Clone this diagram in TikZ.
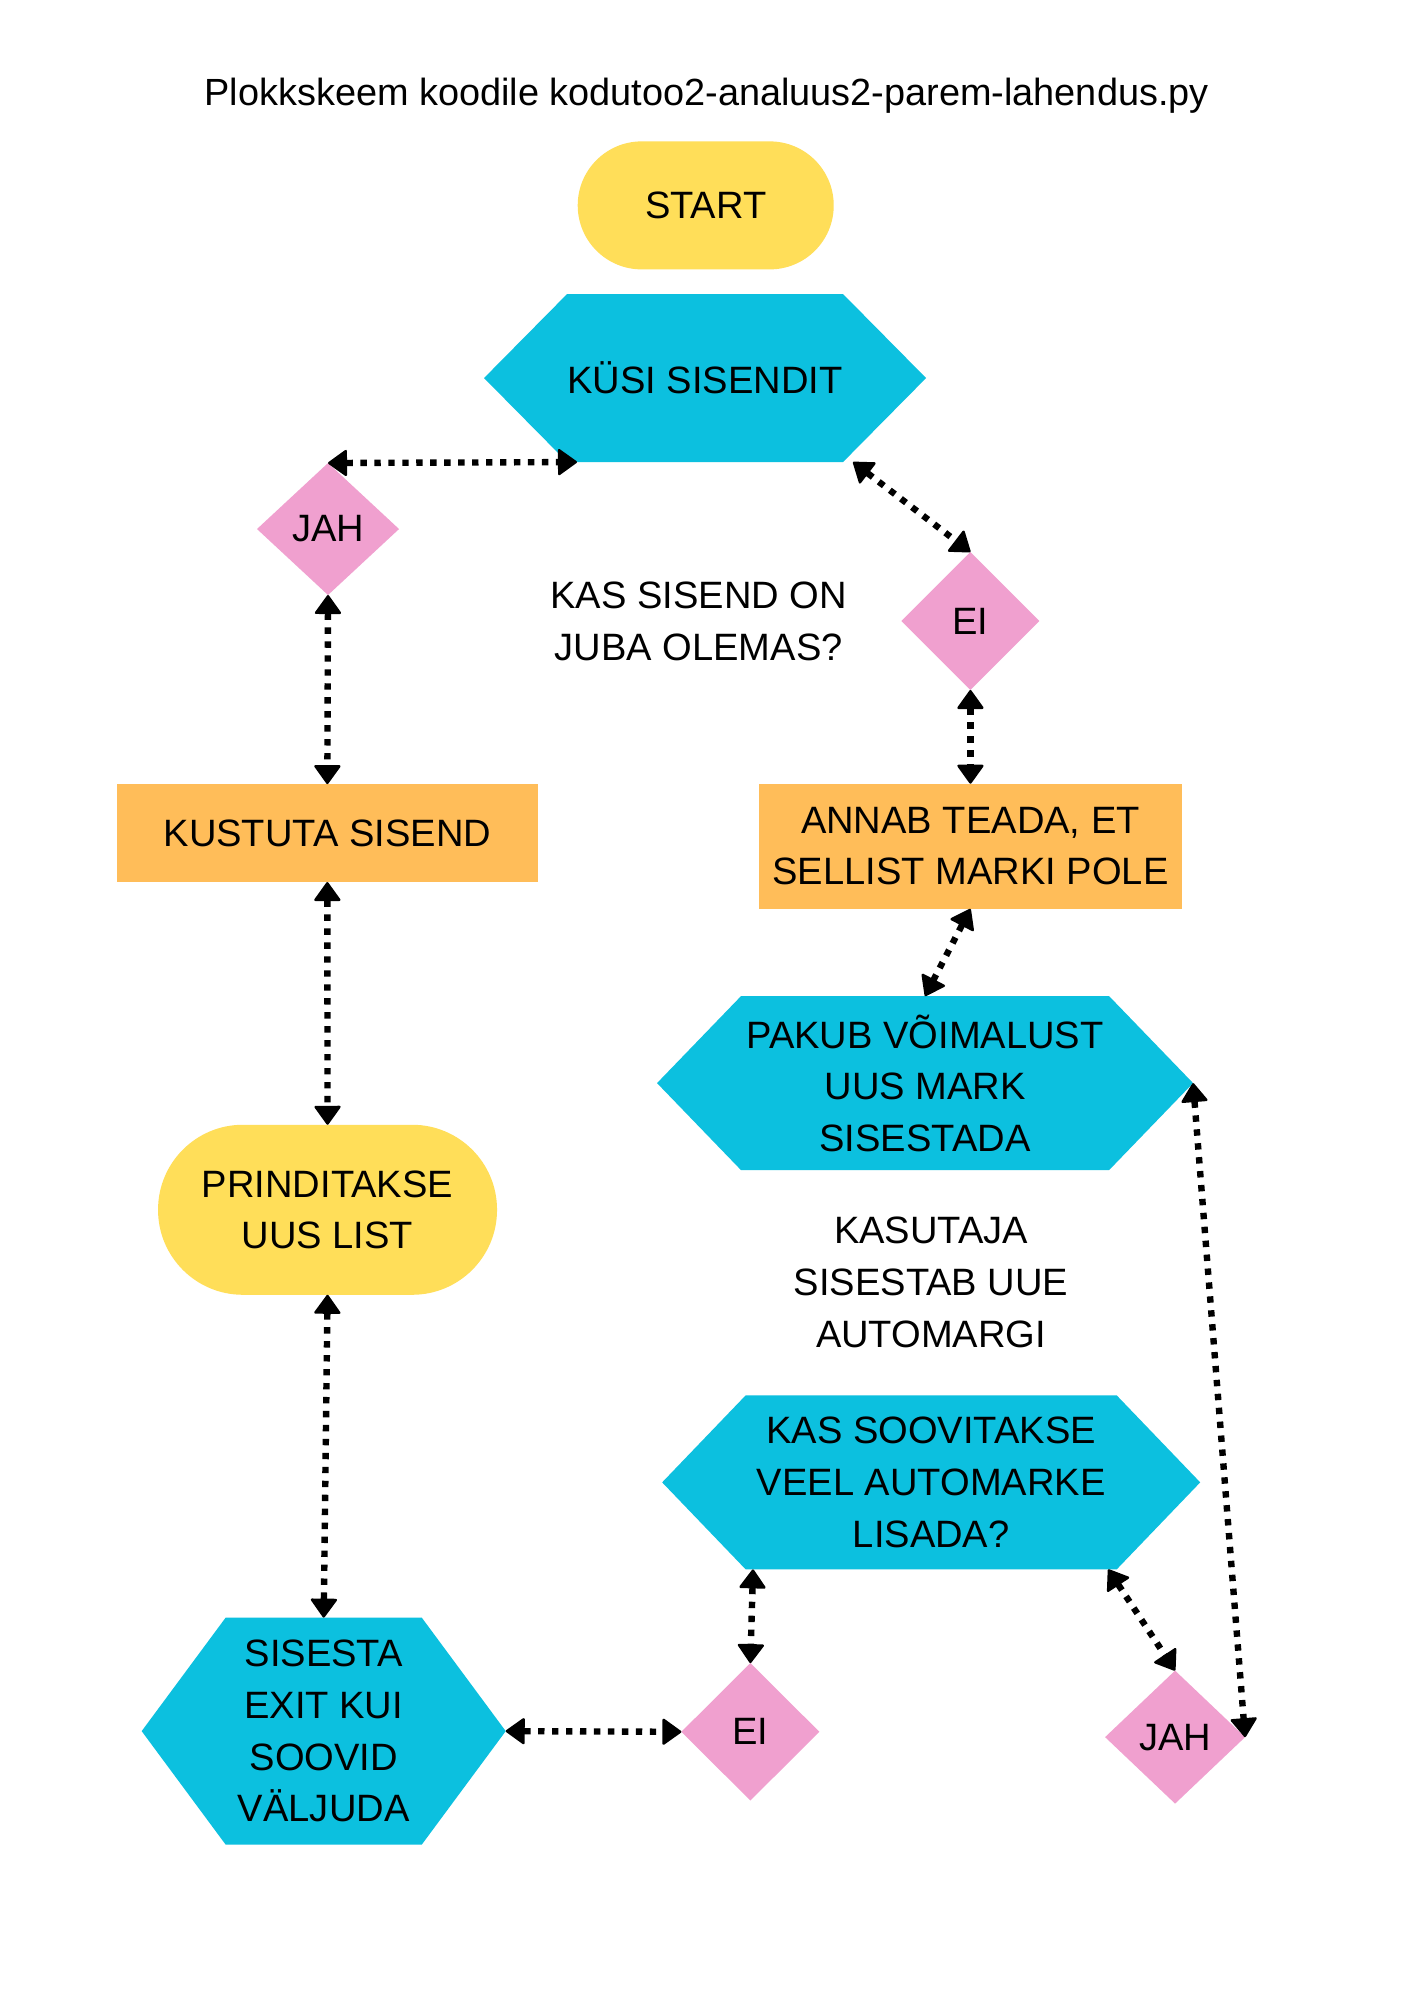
\documentclass[tikz,border=0pt]{standalone}
\usepackage{fontspec}
\setmainfont{Liberation Sans}
\usepackage{xcolor}
\usepackage{tikz}
\usetikzlibrary{arrows.meta,positioning,shapes.geometric}

\definecolor{sunyellow}{HTML}{FFDE59}
\definecolor{skyblue}{HTML}{0CC0DF}
\definecolor{rosepink}{HTML}{F0A0CF}
\definecolor{peach}{HTML}{FFBD59}
\newcommand{\chartfont}{\fontsize{16.1pt}{21.8pt}\selectfont}

\begin{document}
\begin{tikzpicture}[
    block/.style={rectangle, inner sep=0pt, outer sep=0pt, align=center, font=\chartfont},
    terminal/.style={block, fill=sunyellow},
    task/.style={block, fill=peach},
    hexa/.style={block, path picture={
        \fill[skyblue] (path picture bounding box.west)
          -- ([xshift=#1]path picture bounding box.north west)
          -- ([xshift=-#1]path picture bounding box.north east)
          -- (path picture bounding box.east)
          -- ([xshift=-#1]path picture bounding box.south east)
          -- ([xshift=#1]path picture bounding box.south west) -- cycle;}},
    answer/.style={diamond, inner sep=0pt, outer sep=0pt, fill=rosepink, font=\chartfont},
    note/.style={align=center, inner sep=0pt, font=\chartfont},
    link/.style={{Triangle[length=8.4pt,width=11.8pt,line width=1pt,round]}-{Triangle[length=8.4pt,width=11.8pt,line width=1pt,round]},
        line width=2.7pt, dash pattern=on 2.7pt off 3.2pt}
]

% Page
\fill[white] (0,0) rectangle (21,-29.70);
\useasboundingbox (0,0) rectangle (21,-29.70);

% Title
\node[note, anchor=base, font=\fontsize{16pt}{21.8pt}\selectfont] (title) at (10.495,-1.570) {Plokkskeem koodile kodutoo2-analuus2-parem-lahendus.py};

% Input
\node[terminal, rounded corners=0.95cm, minimum width=3.802cm, minimum height=1.901cm] (start) at (10.480,-3.050) {START};
\node[hexa=1.233cm, minimum width=6.564cm, minimum height=2.495cm] (ask_input) at (10.470,-5.614) {KÜSI SISENDIT};
\node[note] (exists_question) at (10.376,-9.227) {KAS SISEND ON\\JUBA OLEMAS?};
\node[answer, minimum width=2.109cm, minimum height=1.960cm] (yes_exists) at (4.871,-7.856) {JAH};
\node[answer, minimum width=2.049cm, minimum height=2.049cm] (no_exists) at (14.411,-9.222) {EI};

% Left branch
\node[task, minimum width=6.260cm, minimum height=1.455cm] (delete_input) at (4.861,-12.371) {KUSTUTA SISEND};
\node[terminal, rounded corners=1.26cm, minimum width=5.034cm, minimum height=2.525cm] (print_list) at (4.864,-17.965) {PRINDITAKSE\\UUS LIST};
\node[hexa=1.247cm, minimum width=5.406cm, minimum height=3.371cm] (exit_input) at (4.807,-25.707) {SISESTA\\EXIT KUI\\SOOVID\\VÄLJUDA};

% Right branch
\node[task, minimum width=6.294cm, minimum height=1.858cm] (no_brand) at (14.411,-12.567) {ANNAB TEADA, ET\\SELLIST MARKI POLE};
\node[hexa=1.247cm, minimum width=7.960cm, minimum height=2.584cm] (offer_brand) at (13.737,-16.084) {PAKUB VÕIMALUST\\UUS MARK\\SISESTADA};
\node[note] (user_enters) at (13.826,-19.043) {KASUTAJA\\SISESTAB UUE\\AUTOMARGI};
\node[hexa=1.240cm, minimum width=7.990cm, minimum height=2.584cm] (add_more) at (13.828,-22.013) {KAS SOOVITAKSE\\VEEL AUTOMARKE\\LISADA?};
\node[answer, minimum width=2.049cm, minimum height=2.041cm] (no_more) at (11.143,-25.717) {EI};
\node[answer, minimum width=2.079cm, minimum height=1.975cm] (yes_more) at (17.450,-25.796) {JAH};

% Connections
\draw[link] (yes_exists.north) -- ([xshift=1.38cm]ask_input.south west);
\draw[link] ([xshift=-1.084cm]ask_input.south east) -- (no_exists.north);
\draw[link] (yes_exists.south) -- (delete_input.north);
\draw[link] (no_exists.south) -- (no_brand.north);
\draw[link] (delete_input.south) -- (print_list.north);
\draw[link] (no_brand.south) -- (offer_brand.north);
\draw[link] (offer_brand.east) -- (yes_more.east);
\draw[link] (print_list.south) -- (exit_input.north);
\draw[link] (exit_input.east) -- (no_more.west);
\draw[link] ([xshift=1.349cm]add_more.south west) -- (no_more.north);
\draw[link] ([xshift=-1.366cm]add_more.south east) -- (yes_more.north);

\end{tikzpicture}
\end{document}
